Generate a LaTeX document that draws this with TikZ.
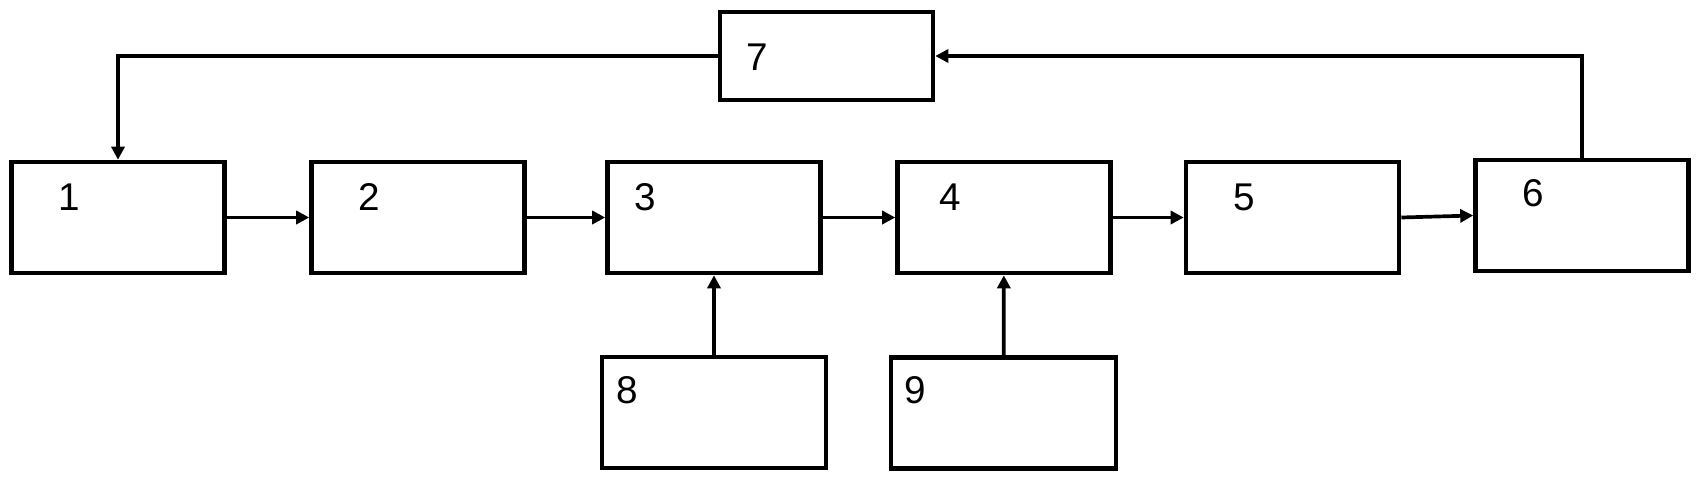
\documentclass[tikz,border=0pt]{standalone}
\usepackage{fontspec}
\setmainfont{Liberation Sans}
\usetikzlibrary{arrows.meta,positioning}

\begin{document}
\begin{tikzpicture}[>={Triangle[length=0.26cm,width=0.26cm]},
  blk/.style={draw, line width=2.6pt, minimum width=4.26cm, minimum height=2.22cm,
    inner sep=0pt},
  num/.style={font=\fontsize{22}{26}\selectfont, inner sep=0pt},
  link/.style={->, line width=2.1pt}]
\useasboundingbox (0,0) rectangle (34.02,-9.64);
% main chain
\node[blk] (b1) at (2.36,-4.35) {};
\node[blk] (b2) at (8.36,-4.35) {};
\node[blk] (b3) at (14.28,-4.35) {};
\node[blk] (b4) at (20.08,-4.35) {};
\node[blk] (b5) at (25.85,-4.35) {};
\node[blk] (b6) at (31.64,-4.31) {};
% feedback block
\node[blk, minimum height=1.76cm] (b7) at (16.53,-1.12) {};
% side inputs
\node[blk, minimum width=4.48cm] (b8) at (14.28,-8.25) {};
\node[blk, minimum width=4.5cm] (b9) at (20.07,-8.26) {};
% numbers
\node[num] (n1) at (1.38,-3.94) {1};
\node[num] (n2) at (7.38,-3.94) {2};
\node[num] (n3) at (12.90,-3.94) {3};
\node[num] (n4) at (19.00,-3.94) {4};
\node[num] (n5) at (24.88,-3.94) {5};
\node[num] (n6) at (30.66,-3.86) {6};
\node[num] (n7) at (15.14,-1.14) {7};
\node[num] (n8) at (12.54,-7.80) {8};
\node[num] (n9) at (18.30,-7.80) {9};
% connections
\draw[link] (b1) -- (b2);
\draw[link] (b2) -- (b3);
\draw[link] (b3) -- (b4);
\draw[link] (b4) -- (b5);
\draw[link] (b5.east) -- (b6.west);
\draw[link] (b8) -- (b3);
\draw[link] (b9) -- (b4);
\draw[link] (b6.north) |- (b7.east);
\draw[link] (b7.west) -| (b1.north);
\end{tikzpicture}
\end{document}
